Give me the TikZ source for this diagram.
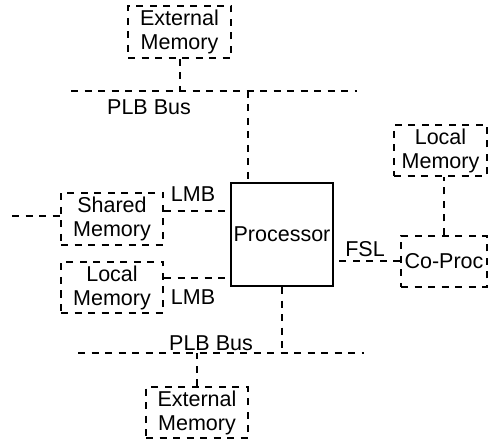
\documentclass[tikz,border=0pt]{standalone}
\usepackage{fontspec}
\setmainfont{Liberation Sans}

\tikzset{
  txt/.style={inner sep=0pt,align=center,font=\fontsize{21.5}{24}\selectfont},
  mem/.style={txt,draw,line width=2pt,dash pattern=on 7pt off 6.5pt},
  cpu/.style={txt,draw,line width=2pt},
  bus/.style={line width=2pt,dash pattern=on 7pt off 6.5pt}
}

\begin{document}
\begin{tikzpicture}[x=1pt,y=-1pt]
\useasboundingbox (0,0) rectangle (492,443);
%Blocks
\node [mem,minimum width=103,minimum height=52] (extTop) at (179.5,32) {External\\Memory};
\node [mem,minimum width=102,minimum height=52] (shared) at (112,219) {Shared\\Memory};
\node [mem,minimum width=102,minimum height=51] (localL) at (112,287.5) {Local\\Memory};
\node [cpu,minimum width=102,minimum height=103] (proc) at (282,234.5) {Processor};
\node [mem,minimum width=93,minimum height=51] (localR) at (440.5,150.5) {Local\\Memory};
\node [mem,minimum width=86,minimum height=51] (coproc) at (444,261.5) {Co-Proc};
\node [mem,minimum width=102,minimum height=51] (extBot) at (197,412.5) {External\\Memory};
%Bus ends
\coordinate (busTW) at (71,91);
\coordinate (busTE) at (357,91);
\coordinate (tapT) at (248,91);
\coordinate (busBW) at (78,353);
\coordinate (busBE) at (364,353);
\coordinate (freeL) at (12,216);
\coordinate (lmbA) at (163,211);
\coordinate (lmbB) at (163,278);
%Lines
\draw [bus] (busTW) -- (busTE);
\draw [bus] (extTop.south) -- (extTop.south |- busTW);
\draw [bus] (tapT) -- (tapT |- proc.north);
\draw [bus] (busBW) -- (busBE);
\draw [bus] (proc.south) -- (proc.south |- busBW);
\draw [bus] (extBot.north) -- (extBot.north |- busBW);
\draw [bus] (freeL) -- (freeL -| shared.west);
\draw [bus,shorten >=4pt] (shared.east |- lmbA) -- (proc.west |- lmbA);
\draw [bus,shorten >=4pt] (localL.east |- lmbB) -- (proc.west |- lmbB);
\draw [bus] (coproc.west) -- (coproc.west -| proc.east);
\draw [bus] (coproc.north) -- (coproc.north |- localR.south);
%Text
\node [txt] (plbT) at (149,107) {PLB Bus};
\node [txt] (plbB) at (211,343) {PLB Bus};
\node [txt] (lmbTopLbl) at (193,194) {LMB};
\node [txt] (lmbBotLbl) at (193,297) {LMB};
\node [txt] (fslLbl) at (365,249) {FSL};
\end{tikzpicture}
\end{document}
